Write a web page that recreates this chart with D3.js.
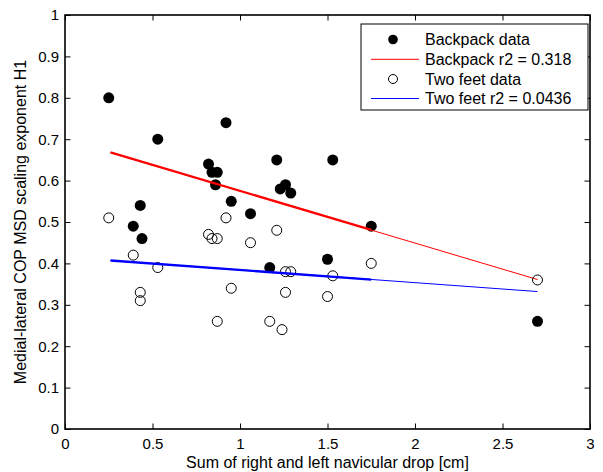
<!DOCTYPE html>
<html><head><meta charset="utf-8">
<script src="https://cdn.jsdelivr.net/npm/d3@7"></script>
<style>body{margin:0;background:#fff}svg{display:block}text{font-family:"Liberation Sans",Arial,sans-serif;fill:#000}</style>
</head><body><svg id="c" width="603" height="472"></svg>
<script>
// Data
const backpackX = [0.25,0.53,0.92,0.43,0.39,0.44,0.82,0.84,0.87,0.86,0.95,1.06,1.21,1.53,1.26,1.23,1.29,1.75,1.50,1.17,2.70];
const backpackY = [0.80,0.70,0.74,0.54,0.49,0.46,0.64,0.62,0.62,0.59,0.55,0.52,0.65,0.65,0.59,0.58,0.57,0.49,0.41,0.39,0.26];
const twoFeetX = [0.25,0.53,0.92,0.43,0.39,0.43,0.82,0.84,0.87,0.87,0.95,1.06,1.21,1.53,1.26,1.29,1.26,1.24,1.75,1.50,1.17,2.70];
const twoFeetY = [0.51,0.39,0.51,0.33,0.42,0.31,0.47,0.46,0.46,0.26,0.34,0.45,0.48,0.37,0.38,0.38,0.33,0.24,0.40,0.32,0.26,0.36];
const fitX = [0.26,1.75,2.70];
const backpackFitY = [0.668,0.481,0.361];
const twoFeetFitY = [0.407,0.361,0.332];
const xTicks = [0,0.5,1,1.5,2,2.5,3];
const xTickLabels = ["0","0.5","1","1.5","2","2.5","3"];
const yTicks = [0,0.1,0.2,0.3,0.4,0.5,0.6,0.7,0.8,0.9,1];
const yTickLabels = ["0","0.1","0.2","0.3","0.4","0.5","0.6","0.7","0.8","0.9","1"];
const legendLabels = ["Backpack data","Backpack r2 = 0.318","Two feet data","Two feet r2 = 0.0436"];
const xLabel = "Sum of right and left navicular drop [cm]";
const yLabel = "Medial-lateral COP MSD scaling exponent H1";

const L=65,R=590,T=15,B=429;
const svg=d3.select("#c");
svg.append("rect").attr("width",603).attr("height",472).attr("fill","#fff");
const x=d3.scaleLinear().domain([0,3]).range([L,R]);
const y=d3.scaleLinear().domain([0,1]).range([B,T]);
const tl=5.5;
const fs=15;

// axes
const ax=svg.append("g").attr("transform",`translate(0,${B})`)
  .call(d3.axisBottom(x).tickValues(xTicks).tickFormat((d,i)=>xTickLabels[i]).tickSizeInner(-tl).tickSizeOuter(0).tickPadding(9));
const axT=svg.append("g").attr("transform",`translate(0,${T})`)
  .call(d3.axisTop(x).tickValues(xTicks).tickFormat("").tickSizeInner(-tl).tickSizeOuter(0));
const ay=svg.append("g").attr("transform",`translate(${L},0)`)
  .call(d3.axisLeft(y).tickValues(yTicks).tickFormat((d,i)=>yTickLabels[i]).tickSizeInner(-tl).tickSizeOuter(0).tickPadding(6));
const ayR=svg.append("g").attr("transform",`translate(${R},0)`)
  .call(d3.axisRight(y).tickValues(yTicks).tickFormat("").tickSizeInner(-tl).tickSizeOuter(0));
[ax,axT,ay,ayR].forEach(g=>{
  g.select(".domain").remove();
  g.selectAll("line").attr("stroke","#000").attr("stroke-width",1);
  g.selectAll("text").attr("font-size",fs).attr("font-family","Liberation Sans, Arial, sans-serif").attr("fill","#000");
});
svg.append("rect").attr("x",L).attr("y",T).attr("width",R-L).attr("height",B-T)
  .attr("fill","none").attr("stroke","#000").attr("stroke-width",1.6);

// data
const pts=d3.range(backpackX.length);
svg.append("g").selectAll("circle").data(pts).join("circle")
  .attr("cx",i=>x(backpackX[i])).attr("cy",i=>y(backpackY[i])).attr("r",5.5).attr("fill","#000");
function fitLine(ys,color){
  svg.append("line").attr("x1",x(fitX[0])).attr("y1",y(ys[0])).attr("x2",x(fitX[2])).attr("y2",y(ys[2]))
    .attr("stroke",color).attr("stroke-width",1);
  svg.append("line").attr("x1",x(fitX[0])).attr("y1",y(ys[0])).attr("x2",x(fitX[1])).attr("y2",y(ys[1]))
    .attr("stroke",color).attr("stroke-width",2.3);
}
fitLine(backpackFitY,"#ff0000");
const pts2=d3.range(twoFeetX.length);
svg.append("g").selectAll("circle").data(pts2).join("circle")
  .attr("cx",i=>x(twoFeetX[i])).attr("cy",i=>y(twoFeetY[i])).attr("r",5).attr("fill","none").attr("stroke","#000").attr("stroke-width",1);
fitLine(twoFeetFitY,"#0000ff");

// labels
svg.append("text").attr("x",(L+R)/2).attr("y",468).attr("text-anchor","middle").attr("font-size",16).text(xLabel);
svg.append("text").attr("transform",`translate(26,${(T+B)/2}) rotate(-90)`).attr("text-anchor","middle").attr("font-size",16).text(yLabel);

// legend
const lg=svg.append("g");
lg.append("rect").attr("x",361).attr("y",24).attr("width",227).attr("height",86).attr("fill","#fff").attr("stroke","#000").attr("stroke-width",1);
const rowY=[39.5,59.3,79,98.5];
legendLabels.forEach((t,i)=>{
  const yy=rowY[i];
  if(i===0) lg.append("circle").attr("cx",393).attr("cy",yy).attr("r",4.8).attr("fill","#000");
  if(i===2) lg.append("circle").attr("cx",393).attr("cy",yy).attr("r",4.5).attr("fill","none").attr("stroke","#000");
  if(i===1) lg.append("line").attr("x1",371).attr("x2",419).attr("y1",yy).attr("y2",yy).attr("stroke","#ff0000");
  if(i===3) lg.append("line").attr("x1",371).attr("x2",419).attr("y1",yy).attr("y2",yy).attr("stroke","#0000ff");
  lg.append("text").attr("x",425).attr("y",yy).attr("dy","0.36em").attr("font-size",16).text(t);
});
</script></body></html>
